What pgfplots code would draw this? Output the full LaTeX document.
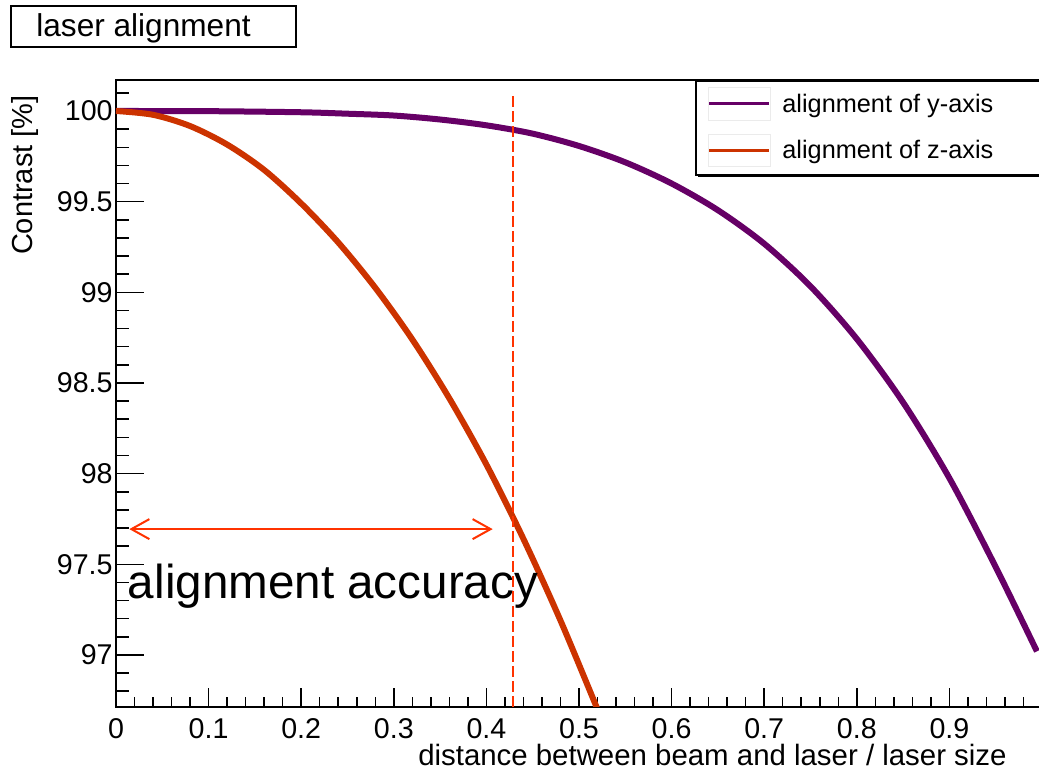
\documentclass[border=0pt]{standalone}
\usepackage{pgfplots}
\pgfplotsset{compat=1.18}
\usepackage{fontspec}
\setmainfont{Liberation Sans}
\usetikzlibrary{arrows.meta}
\definecolor{rootpurple}{RGB}{102,0,102}
\definecolor{rootorange}{RGB}{204,51,0}
\definecolor{rootred}{RGB}{255,51,0}
\begin{document}
\begin{tikzpicture}
\begin{axis}[
  at={(0,0)}, anchor=south west,
  scale only axis, width=463pt, height=313.5pt,
  xmin=0, xmax=1, ymin=96.713, ymax=100.171,
  axis line style={line width=1pt},
  tick pos=left, tick align=inside,
  xtick={0,0.1,0.2,0.3,0.4,0.5,0.6,0.7,0.8,0.9,1},
  xticklabels={0,0.1,0.2,0.3,0.4,0.5,0.6,0.7,0.8,0.9,{}},
  minor xtick={0.02,0.04,...,0.99},
  ytick={97,97.5,98,98.5,99,99.5,100},
  minor ytick={96.8,96.9,...,100.15},
  major tick length=9.5pt, minor tick length=4.75pt,
  every tick/.style={black, line width=0.75pt},
  ytick style={/pgfplots/major tick length=13.85pt, /pgfplots/minor tick length=6.5pt},
  ticklabel style={font=\fontsize{14.3}{16}\selectfont},
  /pgf/number format/assume math mode=true,
  xticklabel style={inner sep=0pt, yshift=-5.5pt},
  yticklabel style={inner sep=0pt, xshift=-1.5pt},
  clip mode=individual,
]
\addplot[rootpurple, line width=3pt, smooth] coordinates {
(0,100) (0.1,99.999) (0.2,99.993) (0.25,99.985) (0.3,99.975) (0.35,99.953)
(0.4,99.921) (0.45,99.875) (0.5,99.807) (0.55,99.717) (0.6,99.6) (0.65,99.453)
(0.7,99.268) (0.75,99.033) (0.8,98.743) (0.85,98.393) (0.9,97.975) (0.95,97.485)
(0.9945,97.02)
};
\addplot[rootorange, line width=3pt, smooth] coordinates {
(0,100) (0.04,99.979) (0.08,99.917) (0.12,99.815) (0.16,99.675) (0.2,99.49)
(0.24,99.275) (0.28,99.025) (0.32,98.74) (0.36,98.415) (0.4,98.05)
(0.44,97.64) (0.48,97.19) (0.52,96.70) (0.53,96.575)
};
\node[anchor=base west, inner sep=0pt, font=\fontsize{23.8}{28}\selectfont] at (axis cs:0.0125,97.31) {alignment accuracy};
\draw[rootred, line width=1pt, {Straight Barb[length=9pt,width=10pt]}-{Straight Barb[length=9pt,width=10pt]}] (axis cs:0.0144,97.694) -- (axis cs:0.4068,97.694);
\addplot[rootred, line width=1pt, dash pattern=on 5.5pt off 2pt, forget plot] coordinates {(0.4287,96.713) (0.4287,100.1)};
\end{axis}
% title box
\draw[line width=0.75pt] (-52.5pt,330pt) rectangle (90pt,350.5pt);
\node[anchor=base west, inner sep=0pt, font=\fontsize{15.8}{19}\selectfont] at (-40pt,335pt) {laser alignment};
% legend
\draw[line width=0.75pt, fill=white] (290pt,266pt) rectangle (470pt,313pt);
\draw[line width=1.2pt] (291pt,265.6pt) -- (470pt,265.6pt);
\draw[black!8, line width=0.5pt] (296pt,293pt) rectangle (327pt,309.5pt);
\draw[black!8, line width=0.5pt] (296pt,270pt) rectangle (327pt,286pt);
\draw[rootpurple, line width=1.5pt] (296.5pt,301.5pt) -- (326.5pt,301.5pt);
\draw[rootorange, line width=1.5pt] (296.5pt,278pt) -- (326.5pt,278pt);
\node[anchor=base west, inner sep=0pt, font=\fontsize{12.65}{15}\selectfont] at (333pt,297.3pt) {alignment of y-axis};
\node[anchor=base west, inner sep=0pt, font=\fontsize{12.65}{15}\selectfont] at (333pt,274.3pt) {alignment of z-axis};
% axis labels
\node[rotate=90, anchor=base east, inner sep=0pt, font=\fontsize{14.5}{17}\selectfont] at (-41.5pt,306pt) {Contrast [\%]};
\node[anchor=base east, inner sep=0pt, font=\fontsize{14.7}{17}\selectfont] at (445.5pt,-29.5pt) {distance between beam and laser / laser size};
\pgfresetboundingbox
\path[use as bounding box] (-58pt,-31.5pt) rectangle (461.5pt,353.5pt);
\end{tikzpicture}
\end{document}
